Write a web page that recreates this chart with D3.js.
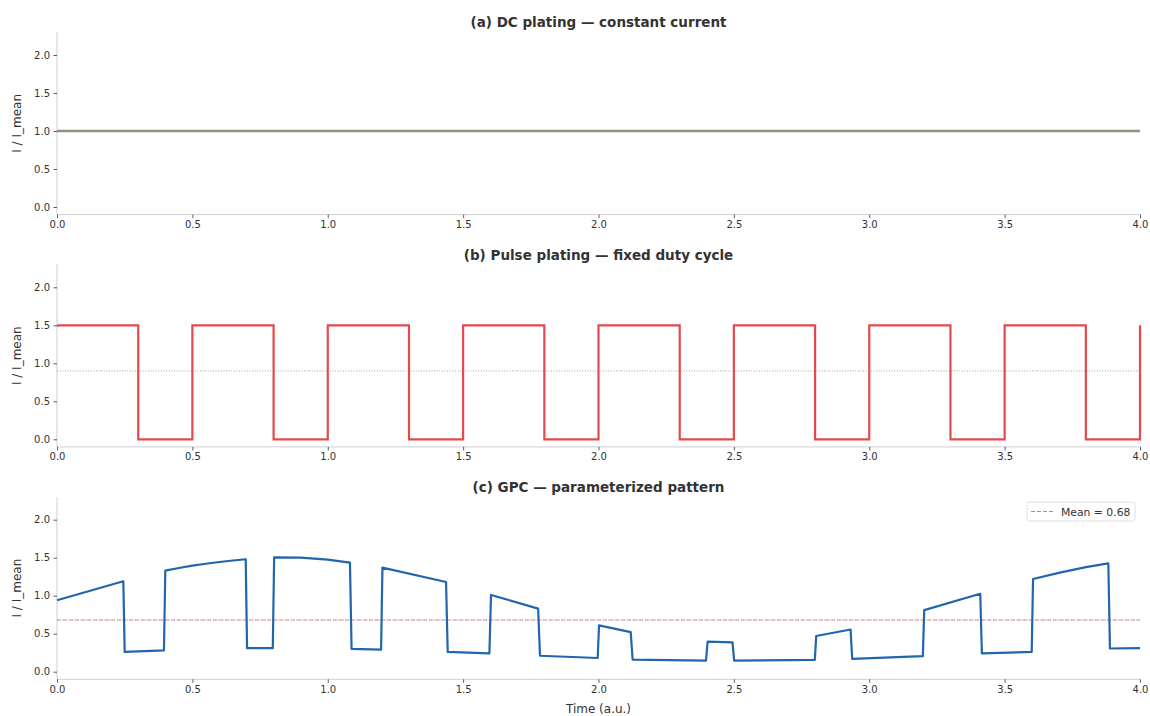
<!DOCTYPE html>
<html>
<head>
<meta charset="utf-8">
<script src="https://cdn.jsdelivr.net/npm/d3@7"></script>
<style>
  html, body { margin: 0; padding: 0; background: #fff; }
  svg { display: block; font-family: "DejaVu Sans", sans-serif; }
</style>
</head>
<body>
<svg id="chart" width="1150" height="716"></svg>
<script>
// ---------- data ----------
const panelTitles = [
  "(a) DC plating \u2014 constant current",
  "(b) Pulse plating \u2014 fixed duty cycle",
  "(c) GPC \u2014 parameterized pattern"
];
const xTicks = [0.0, 0.5, 1.0, 1.5, 2.0, 2.5, 3.0, 3.5, 4.0];
const yTicks = [0.0, 0.5, 1.0, 1.5, 2.0];

// (a) DC
const dcTime = [0, 4];
const dcCurrent = [1.0, 1.0];

// (b) pulse (step-after values)
const pulseTime = [0, 0.3, 0.5, 0.8, 1.0, 1.3, 1.5, 1.8, 2.0, 2.3, 2.5, 2.8, 3.0, 3.3, 3.5, 3.8, 4.0];
const pulseCurrent = [1.5, 0, 1.5, 0, 1.5, 0, 1.5, 0, 1.5, 0, 1.5, 0, 1.5, 0, 1.5, 0, 1.5];
const pulseMean = 0.9;

// (c) GPC waveform
const gpcTime = [
  0.000, 0.245, 0.250, 0.395, 0.400, 0.450, 0.500, 0.550, 0.600, 0.650, 0.697,
  0.702, 0.797, 0.802, 0.900, 1.000, 1.082, 1.088, 1.197, 1.202, 1.437, 1.443,
  1.597, 1.603, 1.777, 1.784, 1.997, 2.002, 2.119, 2.126, 2.397, 2.403, 2.495,
  2.501, 2.799, 2.804, 2.931, 2.937, 3.198, 3.203, 3.410, 3.416, 3.600, 3.605,
  3.700, 3.800, 3.883, 3.889, 4.000
];
const gpcCurrent = [
  0.94, 1.19, 0.26, 0.28, 1.33, 1.365, 1.395, 1.42, 1.443, 1.463, 1.48,
  0.31, 0.31, 1.505, 1.50, 1.475, 1.435, 0.30, 0.29, 1.37, 1.18, 0.26,
  0.24, 1.01, 0.83, 0.21, 0.18, 0.61, 0.52, 0.16, 0.145, 0.395, 0.385,
  0.145, 0.155, 0.47, 0.555, 0.17, 0.205, 0.81, 1.025, 0.24, 0.26, 1.22,
  1.30, 1.375, 1.425, 0.305, 0.31
];
const gpcMean = 0.68;
const legendLabel = "Mean = 0.68";

// ---------- layout ----------
const svg = d3.select("#chart");
const left = 57, right = 1140;
const panels = [
  { top: 32.2, bottom: 214.6, titleY: 26.5 },
  { top: 264.5, bottom: 446.9, titleY: 259.5 },
  { top: 496.9, bottom: 679.3, titleY: 491.5 }
];
const x = d3.scaleLinear().domain([0, 4]).range([left, right]);
const txt = "#333";

panels.forEach((p, i) => {
  const y = d3.scaleLinear().domain([-0.1, 2.3]).range([p.bottom, p.top]);
  p.y = y;
  const g = svg.append("g");

  // spines
  g.append("line").attr("x1", left).attr("x2", left).attr("y1", p.top).attr("y2", p.bottom)
    .attr("stroke", "#cfcfcf").attr("stroke-width", 1);
  g.append("line").attr("x1", left).attr("x2", right).attr("y1", p.bottom).attr("y2", p.bottom)
    .attr("stroke", "#cfcfcf").attr("stroke-width", 1);

  // x axis
  const xa = g.append("g").attr("transform", `translate(0,${p.bottom})`)
    .call(d3.axisBottom(x).tickValues(xTicks).tickFormat(d3.format(".1f")).tickSize(3.5).tickPadding(3));
  xa.select(".domain").remove();
  xa.selectAll(".tick line").attr("stroke", txt).attr("stroke-width", 0.8);
  xa.selectAll(".tick text").attr("fill", txt).attr("font-size", 10).attr("font-family", "DejaVu Sans");

  // y axis
  const ya = g.append("g").attr("transform", `translate(${left},0)`)
    .call(d3.axisLeft(y).tickValues(yTicks).tickFormat(d3.format(".1f")).tickSize(3.5).tickPadding(3.5));
  ya.select(".domain").remove();
  ya.selectAll(".tick line").attr("stroke", txt).attr("stroke-width", 0.8);
  ya.selectAll(".tick text").attr("fill", txt).attr("font-size", 10).attr("font-family", "DejaVu Sans");

  // y label
  g.append("text")
    .attr("transform", `translate(21,${(p.top + p.bottom) / 2}) rotate(-90)`)
    .attr("text-anchor", "middle").attr("font-size", 12).attr("fill", txt)
    .text("I / I_mean");

  // title
  g.append("text").attr("x", (left + right) / 2).attr("y", p.titleY)
    .attr("text-anchor", "middle").attr("font-size", 13.5).attr("font-weight", "bold")
    .attr("fill", txt).text(panelTitles[i]);
});

// (a) DC line
{
  const y = panels[0].y;
  const line = d3.line().x((d, i) => x(dcTime[i])).y((d, i) => y(dcCurrent[i]));
  svg.append("path").datum(dcTime).attr("d", line)
    .attr("fill", "none").attr("stroke", "#8f8f84").attr("stroke-width", 2.4);
}

// (b) pulse
{
  const y = panels[1].y;
  svg.append("line").attr("x1", x(0)).attr("x2", x(4)).attr("y1", y(pulseMean)).attr("y2", y(pulseMean))
    .attr("stroke", "#999").attr("stroke-width", 0.9).attr("stroke-dasharray", "1,1.6");
  const line = d3.line().curve(d3.curveStepAfter)
    .x((d, i) => x(pulseTime[i])).y((d, i) => y(pulseCurrent[i]));
  svg.append("path").datum(pulseTime).attr("d", line)
    .attr("fill", "none").attr("stroke", "#e4494d").attr("stroke-width", 2.2);
}

// (c) GPC
{
  const y = panels[2].y;
  svg.append("line").attr("x1", x(0)).attr("x2", x(4)).attr("y1", y(gpcMean)).attr("y2", y(gpcMean))
    .attr("stroke", "#aaa").attr("stroke-width", 0.9).attr("stroke-dasharray", "1,1.6");
  svg.append("line").attr("x1", x(0)).attr("x2", x(4)).attr("y1", y(gpcMean)).attr("y2", y(gpcMean))
    .attr("stroke", "#e57373").attr("stroke-opacity", 0.8).attr("stroke-width", 1)
    .attr("stroke-dasharray", "4,2");
  const line = d3.line().x((d, i) => x(gpcTime[i])).y((d, i) => y(gpcCurrent[i]));
  svg.append("path").datum(gpcTime).attr("d", line)
    .attr("fill", "none").attr("stroke", "#2166ac").attr("stroke-width", 2.2)
    .attr("stroke-linejoin", "round");

  // legend
  const lg = svg.append("g").attr("transform", "translate(1027,502)");
  lg.append("rect").attr("width", 108).attr("height", 19).attr("rx", 2.5)
    .attr("fill", "#fff").attr("stroke", "#d8d8d8").attr("stroke-width", 0.8);
  lg.append("line").attr("x1", 4).attr("x2", 26).attr("y1", 9.5).attr("y2", 9.5)
    .attr("stroke", "#e57373").attr("stroke-width", 1).attr("stroke-dasharray", "4,2");
  lg.append("text").attr("x", 34).attr("y", 13.6).attr("font-size", 10.8).attr("fill", txt)
    .text(legendLabel);
}

// x label
svg.append("text").attr("x", (left + right) / 2).attr("y", 713)
  .attr("text-anchor", "middle").attr("font-size", 12).attr("fill", txt).text("Time (a.u.)");
</script>
</body>
</html>
